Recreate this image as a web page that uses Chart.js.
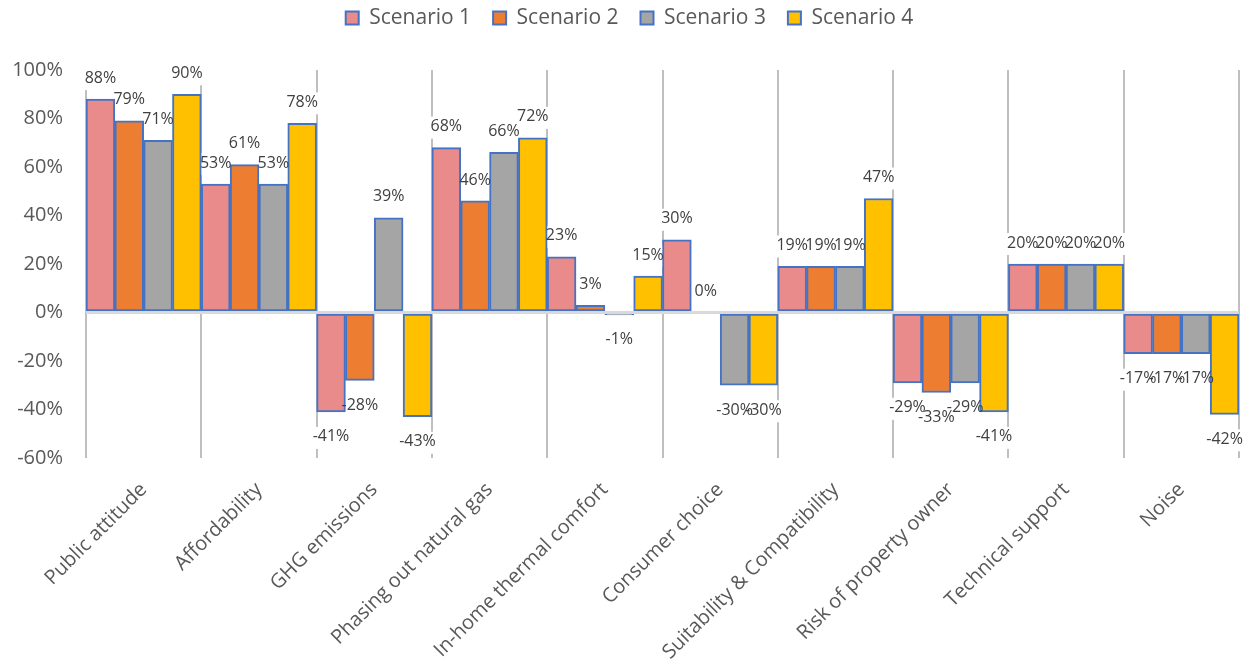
<!DOCTYPE html>
<html>
<head>
<meta charset="utf-8">
<title>Scenario comparison</title>
<script src="https://cdn.jsdelivr.net/npm/chart.js@4/dist/chart.umd.min.js"></script>
<style>
  html, body { margin: 0; padding: 0; background: #ffffff; }
  #wrap { width: 1249px; height: 671px; }
</style>
</head>
<body>
<div id="wrap"><canvas id="chart" width="1249" height="671"></canvas></div>
<script>
// Criteria compared across the four scenarios
const categories = [
  'Public attitude', 'Affordability', 'GHG emissions', 'Phasing out natural gas',
  'In-home thermal comfort', 'Consumer choice', 'Suitability & Compatibility',
  'Risk of property owner', 'Technical support', 'Noise'
];

// Net score per criterion, in percent
const scenario1 = [88, 53, -41, 68, 23, 30, 19, -29, 20, -17];
const scenario2 = [79, 61, -28, 46, 3, 0, 19, -33, 20, -17];
const scenario3 = [71, 53, 39, 66, -1, -30, 19, -29, 20, -17];
const scenario4 = [90, 78, -43, 72, 15, -30, 47, -41, 20, -42];

const seriesNames = ['Scenario 1', 'Scenario 2', 'Scenario 3', 'Scenario 4'];
const seriesColors = ['#E98A8B', '#ED7D31', '#A5A5A5', '#FFC000'];

// Value axis
const yMin = -60;
const yMax = 100;
const yStep = 20;

const FONT = '"Open Sans", "DejaVu Sans", sans-serif';
const LABEL_FONT = '16px ' + FONT;
const LEGEND_PAD = 22;
const LEGEND_FONT = 21;
const LEGEND_TEXT_Y = 18;
const LEGEND_SHIFT_X = 10;

function labelItems(chart) {
  const ctx = chart.ctx;
  const items = [];
  ctx.save();
  ctx.font = LABEL_FONT;
  chart.data.datasets.forEach((ds, i) => {
    chart.getDatasetMeta(i).data.forEach((bar, j) => {
      const v = ds.data[j];
      const text = v + '%';
      const y = v >= 0 ? bar.y - 21 : bar.y + 25;
      items.push({ text, x: bar.x, y, w: ctx.measureText(text).width });
    });
  });
  ctx.restore();
  return items;
}

// Percentage labels at the outer end of every bar; the backing hides
// the category separators behind the text but stays under the bars
const valueLabels = {
  id: 'valueLabels',
  beforeDatasetsDraw(chart) {
    const ctx = chart.ctx;
    ctx.save();
    ctx.fillStyle = '#ffffff';
    labelItems(chart).forEach((it) => ctx.fillRect(it.x - it.w / 2, it.y - 10, it.w, 22));
    ctx.restore();
  },
  afterDatasetsDraw(chart) {
    const ctx = chart.ctx;
    ctx.save();
    ctx.font = LABEL_FONT;
    ctx.fillStyle = '#404040';
    ctx.textAlign = 'center';
    ctx.textBaseline = 'middle';
    labelItems(chart).forEach((it) => ctx.fillText(it.text, it.x, it.y));
    ctx.restore();
  }
};

// Keep the legend row near the top edge while the plot starts lower down
const legendPlacement = {
  id: 'legendPlacement',
  afterLayout(chart) {
    const lg = chart.legend;
    if (!lg) return;
    const dy = LEGEND_TEXT_Y - (lg.top + LEGEND_PAD + LEGEND_FONT / 2);
    lg.top += dy; lg.bottom += dy;
    lg.left += LEGEND_SHIFT_X; lg.right += LEGEND_SHIFT_X;
  }
};

const datasets = [scenario1, scenario2, scenario3, scenario4].map((values, i) => ({
  label: seriesNames[i],
  data: values,
  backgroundColor: seriesColors[i],
  borderColor: '#4472C4',
  borderWidth: 2,
  borderSkipped: false,
  categoryPercentage: 1,
  barPercentage: 1
}));

new Chart(document.getElementById('chart'), {
  type: 'bar',
  data: { labels: categories, datasets },
  plugins: [valueLabels, legendPlacement],
  options: {
    responsive: false,
    devicePixelRatio: 1,
    animation: false,
    layout: { padding: { top: 17, right: 10, bottom: 0, left: 0 } },
    plugins: {
      legend: {
        position: 'top',
        labels: {
          boxWidth: 13,
          boxHeight: 13,
          padding: LEGEND_PAD,
          color: '#595959',
          font: { family: FONT, size: LEGEND_FONT }
        }
      },
      tooltip: { enabled: false }
    },
    scales: {
      x: {
        grid: { offset: true, color: '#BFBFBF', lineWidth: 2, drawTicks: false },
        border: { display: false },
        ticks: {
          autoSkip: false,
          minRotation: 45,
          maxRotation: 45,
          padding: 20,
          color: '#595959',
          font: { family: FONT, size: 20 }
        },
        afterFit(scale) { scale.height = 213; }
      },
      y: {
        min: yMin,
        max: yMax,
        grid: {
          z: 1,
          drawTicks: false,
          lineWidth: 3,
          color: (c) => (c.tick && c.tick.value === 0 ? '#D9D9D9' : 'rgba(0,0,0,0)')
        },
        border: { display: false },
        ticks: {
          stepSize: yStep,
          padding: 23,
          color: '#595959',
          font: { family: FONT, size: 20 },
          callback: (v) => v + '%'
        },
        afterFit(scale) { scale.width = 86; }
      }
    }
  }
});
</script>
</body>
</html>
